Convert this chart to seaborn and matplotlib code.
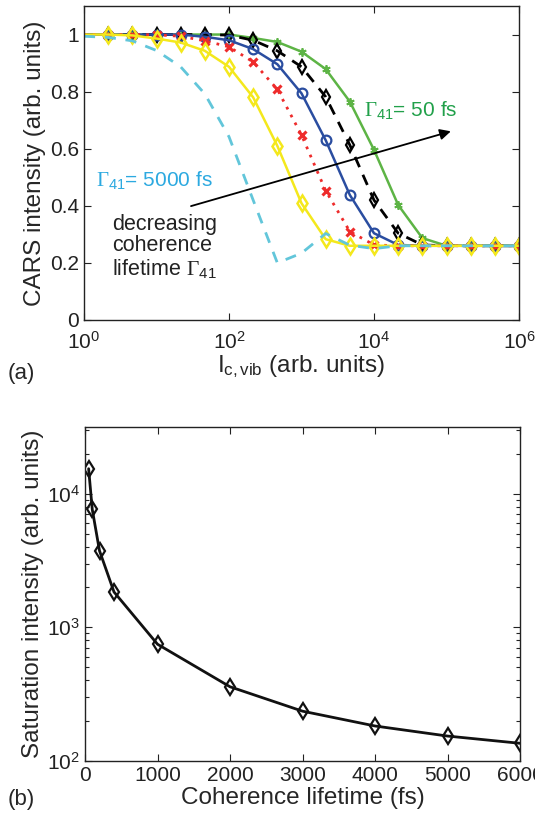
import numpy as np
import pandas as pd
import matplotlib
matplotlib.use("Agg")
import matplotlib.pyplot as plt
import seaborn as sns

# ---------------- data ----------------
# panel (a): x = 10**(k/3), k = 0..18
log_x = [k / 3 for k in range(19)]
g50 = [1.0, 1.0, 1.0, 1.0, 1.0, 1.0, 1.0, 0.988, 0.974, 0.94, 0.879, 0.765, 0.596, 0.403, 0.287, 0.26, 0.26, 0.26, 0.26]
black = [1.0, 1.0, 1.0, 1.0, 1.0, 1.0, 0.998, 0.98, 0.943, 0.887, 0.782, 0.613, 0.42, 0.304, 0.263, 0.26, 0.26, 0.26, 0.26]
blue = [1.0, 1.0, 1.0, 1.0, 1.0, 0.992, 0.98, 0.949, 0.896, 0.794, 0.63, 0.438, 0.304, 0.263, 0.26, 0.26, 0.26, 0.26, 0.26]
red = [1.0, 1.0, 1.0, 0.999, 0.994, 0.978, 0.957, 0.904, 0.808, 0.648, 0.453, 0.31, 0.263, 0.26, 0.26, 0.26, 0.26, 0.26, 0.26]
yellow = [1.0, 1.0, 0.997, 0.986, 0.972, 0.943, 0.887, 0.78, 0.61, 0.409, 0.283, 0.26, 0.26, 0.26, 0.26, 0.26, 0.26, 0.26, 0.26]
cyan = [0.994, 0.99, 0.978, 0.944, 0.887, 0.792, 0.642, 0.42, 0.20, 0.234, 0.303, 0.262, 0.25, 0.26, 0.26, 0.26, 0.26, 0.26, 0.26]

# panel (b)
lifetime_fs = [50, 100, 200, 400, 1000, 2000, 3000, 4000, 5000, 6000]
sat_intensity = [15400, 7640, 3740, 1837, 746, 358, 235, 182, 153, 135]

xticks_a = [1, 100, 1e4, 1e6]
xticklabels_a = [r'$\mathsf{10^{0}}$', r'$\mathsf{10^{2}}$', r'$\mathsf{10^{4}}$', r'$\mathsf{10^{6}}$']
yticks_a = [0, 0.2, 0.4, 0.6, 0.8, 1]
yticklabels_a = ['0', '0.2', '0.4', '0.6', '0.8', '1']
xticks_b = [0, 1000, 2000, 3000, 4000, 5000, 6000]
yticks_b = [1e2, 1e3, 1e4]
yticklabels_b = [r'$\mathsf{10^{2}}$', r'$\mathsf{10^{3}}$', r'$\mathsf{10^{4}}$']

# ---------------- style ----------------
sns.set_theme(style="ticks")
plt.rcParams['font.family'] = ['Liberation Sans', 'DejaVu Sans']
plt.rcParams['mathtext.fontset'] = 'custom'
plt.rcParams['mathtext.rm'] = 'Liberation Serif'
plt.rcParams['mathtext.it'] = 'Liberation Serif:italic'
plt.rcParams['mathtext.sf'] = 'Liberation Sans'
TFS = 15      # tick labels
LFS = 17.5    # axis labels
AFS = 14.5    # annotations

fig = plt.figure(figsize=(5.35, 8.19), dpi=100)
ax1 = fig.add_axes([84 / 535, 1 - 320 / 819, 435 / 535, 314 / 819])
ax2 = fig.add_axes([85 / 535, 1 - 760.7 / 819, 435 / 535, 333.7 / 819])

xa = [10 ** v for v in log_x]
dfa = pd.DataFrame({'x': xa, 'g50': g50, 'black': black, 'blue': blue,
                    'red': red, 'yellow': yellow, 'cyan': cyan})

me = slice(1, None)
sns.lineplot(data=dfa, x='x', y='g50', ax=ax1, color='#5DB445', lw=1.8,
             linestyle='-', dashes=False, marker=(6, 2, 0), markersize=6,
             markeredgecolor='#5DB445', markeredgewidth=1.3, markevery=me)
sns.lineplot(data=dfa, x='x', y='black', ax=ax1, color='black', lw=2.0,
             linestyle=(0, (4, 3)), marker='d', markersize=7, markerfacecolor='none',
             markeredgecolor='black', markeredgewidth=1.6, markevery=me)
sns.lineplot(data=dfa, x='x', y='blue', ax=ax1, color='#2A4DA0', lw=1.8,
             marker='o', markersize=7, markerfacecolor='none',
             markeredgecolor='#2A4DA0', markeredgewidth=1.6, markevery=me)
sns.lineplot(data=dfa, x='x', y='red', ax=ax1, color='#EE2B2B', lw=2.0,
             linestyle=(0, (1, 2.2)), marker='x', markersize=6,
             markeredgecolor='#EE2B2B', markeredgewidth=2.2, markevery=me)
sns.lineplot(data=dfa, x='x', y='yellow', ax=ax1, color='#F4E81C', lw=1.8,
             marker='d', markersize=8, markerfacecolor='none',
             markeredgecolor='#F4E81C', markeredgewidth=1.8, markevery=me)
sns.lineplot(data=dfa, x='x', y='cyan', ax=ax1, color='#62C6DA', lw=2.0,
             linestyle=(0, (4, 3.5)))

ax1.set_xscale('log')
ax1.set_xlim(1, 1e6)
ax1.set_ylim(0, 1.1)
ax1.set_xticks(xticks_a)
ax1.set_xticklabels(xticklabels_a)
ax1.xaxis.set_minor_locator(matplotlib.ticker.NullLocator())
ax1.set_yticks(yticks_a)
ax1.set_yticklabels(yticklabels_a)
ax1.set_xlabel(r'$\mathsf{I_{c,vib}}$ (arb. units)', fontsize=LFS, labelpad=0)
ax1.set_ylabel('CARS intensity (arb. units)', fontsize=LFS, labelpad=3)
ax1.tick_params(axis='x', which='major', pad=8)

ax1.annotate('', xy=(10 ** 5.06, 0.661), xytext=(10 ** 1.476, 0.399),
             arrowprops=dict(arrowstyle='-|>', color='black', lw=1.3,
                             mutation_scale=16, shrinkA=0, shrinkB=0))
ax1.text(10 ** 3.86, 0.735, r'$\Gamma_{\mathsf{41}}$= 50 fs', color='#21A04A',
         fontsize=AFS + 0.5, va='center', ha='left')
ax1.text(10 ** 0.16, 0.49, r'$\Gamma_{\mathsf{41}}$= 5000 fs', color='#2CA9E0',
         fontsize=AFS + 0.5, va='center', ha='left')
ax1.text(10 ** 0.39, 0.256, 'decreasing\ncoherence\nlifetime ' + r'$\Gamma_{\mathsf{41}}$',
         color='#222222', fontsize=15.5, va='center', ha='left', linespacing=1.05)

# panel (b)
dfb = pd.DataFrame({'lifetime': lifetime_fs, 'sat': sat_intensity})
sns.lineplot(data=dfb, x='lifetime', y='sat', ax=ax2, color='#111111', lw=2.0,
             marker='d', markersize=8, markerfacecolor='none',
             markeredgecolor='#111111', markeredgewidth=1.6)
ax2.set_yscale('log')
ax2.set_xlim(0, 6000)
ax2.set_ylim(100, 10 ** 4.5)
ax2.set_xticks(xticks_b)
ax2.set_xticklabels([str(v) for v in xticks_b])
ax2.set_yticks(yticks_b)
ax2.set_yticklabels(yticklabels_b)
ax2.yaxis.set_minor_locator(matplotlib.ticker.LogLocator(base=10, subs=np.arange(2, 10)))
ax2.yaxis.set_minor_formatter(matplotlib.ticker.NullFormatter())
ax2.set_xlabel('Coherence lifetime (fs)', fontsize=LFS, labelpad=2)
ax2.set_ylabel('Saturation intensity (arb. units)', fontsize=LFS, labelpad=2)

for ax in (ax1, ax2):
    for s in ax.spines.values():
        s.set_linewidth(1.0)
        s.set_color('#222222')
        s.set_visible(True)
    ax.tick_params(which='both', direction='in', top=True, right=True,
                   labelsize=TFS, colors='#222222', width=0.8)
    ax.tick_params(which='major', length=5)
    ax.tick_params(which='minor', length=3)
    ax.grid(False)

fig.text(8 / 535, 1 - 374 / 819, '(a)', fontsize=16, va='center', ha='left')
fig.text(8 / 535, 1 - 800 / 819, '(b)', fontsize=16, va='center', ha='left')

fig.savefig('out.png', dpi=100)
